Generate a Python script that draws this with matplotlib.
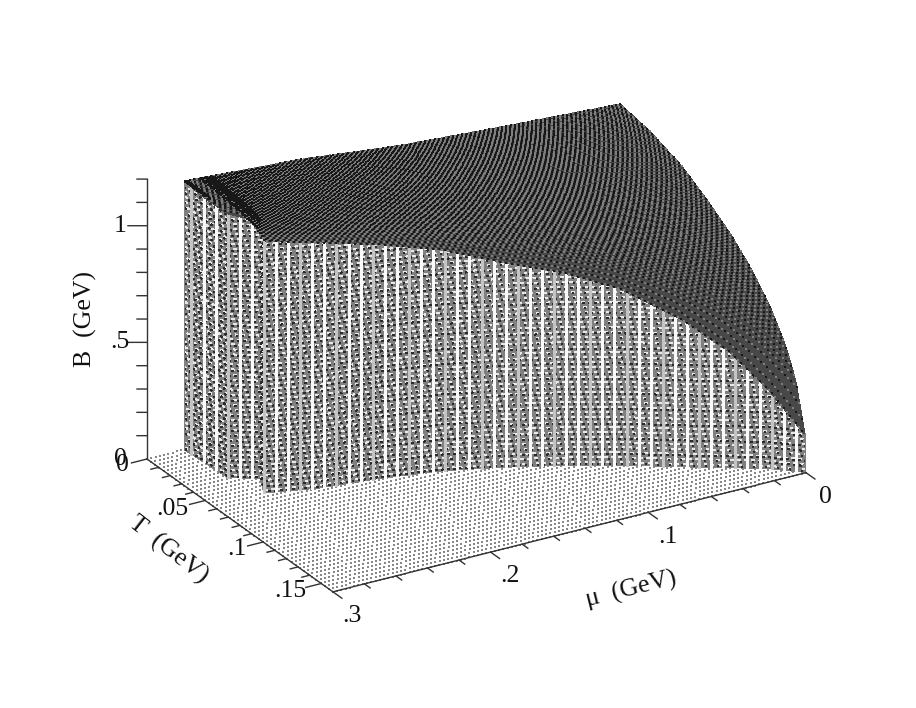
import numpy as np
import matplotlib
matplotlib.use("Agg")
import matplotlib.pyplot as plt
from mpl_toolkits.mplot3d import proj3d

plt.rcParams['font.family'] = ['Liberation Serif', 'DejaVu Serif']

# axis ranges and ticks
mu_max = 0.3
T_max = 0.16
B_max = 1.2
mu_major = [0, 0.1, 0.2, 0.3]
mu_labels = ['0', '.1', '.2', '.3']
mu_minor = [0.02, 0.04, 0.06, 0.08, 0.12, 0.14, 0.16, 0.18, 0.22, 0.24, 0.26, 0.28]
T_major = [0, 0.05, 0.1, 0.15]
T_labels = ['0', '.05', '.1', '.15']
T_minor = [0.01, 0.02, 0.03, 0.04, 0.06, 0.07, 0.08, 0.09, 0.11, 0.12, 0.13, 0.14]
B_major = [0, 0.5, 1]
B_labels = ['0', '.5', '1']
B_minor = [0.1, 0.2, 0.3, 0.4, 0.6, 0.7, 0.8, 0.9, 1.1, 1.2]

# front wall: where it stands and how high it goes
wall_mu = [.276, .275, .274, .259, .267, .238, .203, .170, .140, .110, .082, .055, .032, .014, 0]
wall_T = [.0005, .014, .034, .043, .056, .064, .069, .076, .086, .098, .111, .126, .138, .148, .159]
wall_B = [1.15, 1.133, 1.129, 1.10, 1.077, 1.05, 1.0, .948, .88, .828, .755, .635, .494, .33, .16]

# upper surface along T = 0 and along mu = 0
back_mu = [0, .076, .14, .203, .276]
back_B = [1.01, 1.04, 1.07, 1.118, 1.15]
side_T = [0, .026, .052, .073, .095, .112, .129, .142, .151, .159]
side_B = [1.01, .983, .935, .871, .79, .708, .60, .485, .365, .16]

wall_mu = np.array(wall_mu)
wall_T = np.array(wall_T)
wall_B = np.array(wall_B)

fig = plt.figure(figsize=(9.16, 7.08), dpi=100, facecolor='white')
ax = fig.add_axes([0, 0, 1, 1], projection='3d', proj_type='ortho',
                  computed_zorder=False)
ax.set_xlim(0, mu_max, view_margin=0)
ax.set_ylim(0, T_max, view_margin=0)
ax.set_zlim(0, B_max, view_margin=0)
ax.set_box_aspect((550, 364, 309))
ax.view_init(elev=25.1, azim=59.3)
ax.set_axis_off()


def to_pixels(mu, T, B):
    x, y, _ = proj3d.proj_transform(mu, T, B, ax.get_proj())
    px, py = ax.transData.transform((x, y))
    return px, 708 - py


def label(mu, T, B, txt, **kw):
    px, py = to_pixels(mu, T, B)
    fig.text(px / 916, 1 - py / 708, txt, fontsize=18.5, ha='center', va='center',
             color='#111111', **kw)


# place the axes so the floor corners land where they are in the picture
side = 708.0
ax.set_position([(916 - side) / 2 / 916, 0, side / 916, 1])
ax.apply_aspect()
x0, y0 = to_pixels(mu_max, 0, 0)
x1, y1 = to_pixels(0, T_max, 0)
side = side * (806 - 147) / (x1 - x0)
ax.set_position([(916 - side) / 2 / 916, (708 - side) / 2 / 708, side / 916, side / 708])
ax.apply_aspect()
x0, y0 = to_pixels(mu_max, 0, 0)
ax.set_position([((916 - side) / 2 + 147 - x0) / 916,
                 ((708 - side) / 2 - (459 - y0)) / 708, side / 916, side / 708])
ax.apply_aspect()

# floor dots
fm, ft = np.meshgrid(np.linspace(0, mu_max, 112), np.linspace(0, T_max, 46))
ax.scatter(fm.ravel(), ft.ravel(), np.zeros(fm.size), s=0.6, marker='s', c='#888888',
           linewidths=0, depthshade=False, zorder=1)

# wall, sampled evenly along the screen
run = wall_T / T_max * 186 - wall_mu / mu_max * 473
steps = np.linspace(run[0], run[-1], 206)
col_mu = np.interp(steps, run, wall_mu)
col_T = np.interp(steps, run, wall_T)
col_B = np.interp(steps, run, wall_B)

frac = np.array([0.0, 1.0])
ax.plot_surface(np.outer(np.ones(2), col_mu), np.outer(np.ones(2), col_T),
                np.outer(frac, col_B), rstride=1, cstride=1, color='#808080',
                shade=False, linewidth=0.8, edgecolor='#808080', antialiased=False, zorder=2)

# rows of the wall texture
for n, level in enumerate(np.arange(0.01, 1.16, 0.0215)):
    keep = col_B >= level
    mm = np.where(keep, col_mu, np.nan)
    tt = np.where(keep, col_T, np.nan)
    ax.plot(mm, tt, level + 0 * mm, color='#e8e8e8', lw=0.72,
            ls=(n % 5 * 1.7, (2.8, 4.2)), antialiased=False, zorder=3)
    ax.plot(mm, tt, level - 0.0065 + 0 * mm, color='#2a2a2a', lw=0.72,
            ls=(n % 3 * 1.3, (1.4, 4.2)), antialiased=False, zorder=3)

# vertical stripes of the wall
for i in range(2, len(col_mu), 4):
    shade = '#c4c4c4' if i % 12 == 2 else '#fafafa'
    ax.plot([col_mu[i]] * 2, [col_T[i]] * 2, [0, col_B[i]], color=shade,
            lw=0.85, antialiased=False, zorder=4)

# upper surface
rows = np.linspace(0, 1, 70)
prof = (np.interp(rows * wall_T[-1], side_T, side_B) - side_B[0]) / (side_B[-1] - side_B[0])
B_back = np.interp(col_mu, back_mu, back_B)
S_mu = np.outer(np.ones_like(rows), col_mu)
S_T = np.outer(rows, col_T)
S_B = B_back + np.outer(prof, col_B - B_back)
ax.plot_surface(S_mu, S_T, S_B, rstride=1, cstride=1, color='#484848', edgecolor='#484848',
                shade=False, linewidth=0.3, antialiased=False, zorder=5)
ii, jj = np.indices(S_mu.shape)
odd = (ii + jj) % 2 == 1
# rows bunch up where the surface is narrow, thin the dots there
wide = (S_T.max(axis=0) >= 0.04)[jj] | (ii % 5 == 0)
ax.scatter(S_mu[~odd & wide], S_T[~odd & wide], S_B[~odd & wide], s=0.6, marker='s', c='#7e7e7e',
           linewidths=0, depthshade=False, zorder=6)
ax.scatter(S_mu[odd & wide], S_T[odd & wide], S_B[odd & wide], s=0.6, marker='s', c='#181818',
           linewidths=0, depthshade=False, zorder=6)

# axes
line = dict(color='#333333', lw=1.0, zorder=7)
ax.plot([mu_max, mu_max], [0, 0], [0, B_max], **line)
ax.plot([mu_max, mu_max], [0, T_max], [0, 0], **line)
ax.plot([0, mu_max], [T_max, T_max], [0, 0], **line)

for val in B_major + B_minor:
    length = 19 if val in B_major else 10
    if val != 0:
        a = length / 639.0
        ax.plot([mu_max, mu_max + a * mu_max], [0, -a * 119 / 133 * T_max], [val, val], **line)
for val in T_major + T_minor:
    a = (16 if val in T_major else 8) / 488.0
    ax.plot([mu_max, mu_max + a * mu_max], [val, val], [0, 0], **line)
for val in mu_major + mu_minor:
    a = (11 if val in mu_major else 7) / 229.0
    ax.plot([val, val], [T_max, T_max + a * T_max], [0, 0], **line)

for val, txt in zip(B_major, B_labels):
    a = 27 / 639.0
    label(mu_max + a * mu_max, -a * 119 / 133 * T_max, val, txt)
for val, txt, off in zip(T_major, T_labels, [25, 34, 27, 32]):
    a = off / 488.0
    label(mu_max + a * mu_max, val, 0, txt)
for val, txt in zip(mu_major, mu_labels):
    label(val, T_max + 0.0165, -0.045, txt)

label(0.329, -0.0139, 0.6, 'B  (GeV)', rotation=90)
label(0.35, 0.0857, 0, 'T  (GeV)', rotation=-38)
label(0.159, 0.225, 0, '\u03bc  (GeV)', rotation=14)

fig.savefig('out.png', dpi=100, facecolor='white')
